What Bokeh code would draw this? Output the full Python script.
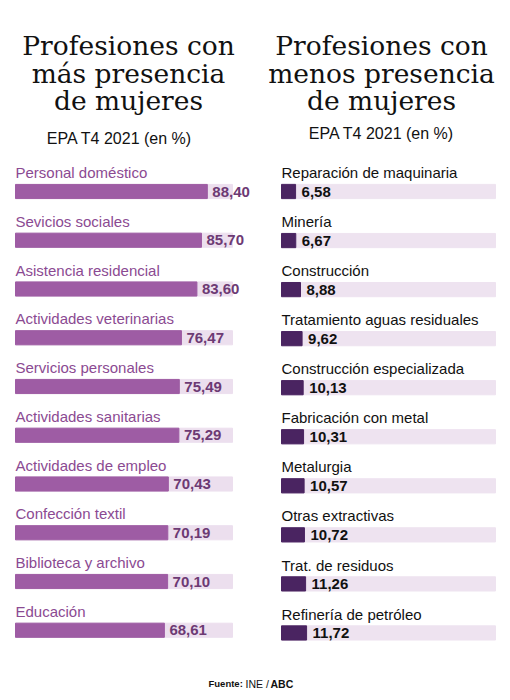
from bokeh.plotting import figure
from bokeh.models import Range1d
from bokeh.core.properties import value
from bokeh.embed import file_html
from bokeh.resources import INLINE

# data
left_labels = ["Personal doméstico", "Sevicios sociales", "Asistencia residencial",
               "Actividades veterinarias", "Servicios personales", "Actividades sanitarias",
               "Actividades de empleo", "Confección textil", "Biblioteca y archivo", "Educación"]
left_values = [88.40, 85.70, 83.60, 76.47, 75.49, 75.29, 70.43, 70.19, 70.10, 68.61]

right_labels = ["Reparación de maquinaria", "Minería", "Construcción",
                "Tratamiento aguas residuales", "Construcción especializada",
                "Fabricación con metal", "Metalurgia", "Otras extractivas",
                "Trat. de residuos", "Refinería de petróleo"]
right_values = [6.58, 6.67, 8.88, 9.62, 10.13, 10.31, 10.57, 10.72, 11.26, 11.72]

W, H = 500, 690

def fmt(v):
    return f"{v:.2f}".replace(".", ",")

p = figure(width=W, height=H, output_backend="svg", toolbar_location=None,
           x_range=Range1d(0, W), y_range=Range1d(H, 0), min_border=0)
p.axis.visible = False
p.grid.visible = False
p.outline_line_color = None
p.background_fill_color = "white"

# scales for each panel: 0..100 % mapped to the pixel spans of the tracks
l0, lpx = 15, 2.17
r0, rpx = 281, 2.14
p.extra_x_ranges = {
    "left": Range1d(-l0 / lpx, (W - l0) / lpx),
    "right": Range1d(-r0 / rpx, (W - r0) / rpx),
}
# rows: bar centre of row i sits at 191 + step*i px
top = 191
lstep, rstep = 48.75, 49.05
p.extra_y_ranges = {
    "lrows": Range1d((H - top) / lstep, -top / lstep),
    "rrows": Range1d((H - top) / rstep, -top / rstep),
}

rows = list(range(len(left_values)))
full = [100] * len(rows)
bar_h = 0.29
lab_y = [r - 0.385 for r in rows]

# left panel
p.hbar(y=rows, left=0, right=full, height=bar_h, color="#ecdfee",
       x_range_name="left", y_range_name="lrows")
p.hbar(y=rows, left=0, right=left_values, height=bar_h, color="#9e5ca4",
       x_range_name="left", y_range_name="lrows")
p.text(x=[0] * len(rows), y=lab_y, text=left_labels, text_color="#8b4a92",
       text_font=value("Liberation Sans"), text_font_size="15px",
       text_baseline="middle", x_range_name="left", y_range_name="lrows")
p.text(x=left_values, y=rows, text=[fmt(v) for v in left_values], x_offset=5,
       text_color="#6d3a74", text_font=value("Liberation Sans"), text_font_style="bold",
       text_font_size="15px", text_baseline="middle",
       x_range_name="left", y_range_name="lrows")

# right panel
p.hbar(y=rows, left=0, right=full, height=bar_h, color="#eee3f0",
       x_range_name="right", y_range_name="rrows")
p.hbar(y=rows, left=0, right=right_values, height=bar_h, color="#4a2461",
       x_range_name="right", y_range_name="rrows")
p.text(x=[0] * len(rows), y=lab_y, text=right_labels, text_color="#111111",
       text_font=value("Liberation Sans"), text_font_size="15px",
       text_baseline="middle", x_range_name="right", y_range_name="rrows")
p.text(x=right_values, y=rows, text=[fmt(v) for v in right_values], x_offset=6,
       text_color="#111111", text_font=value("Liberation Sans"), text_font_style="bold",
       text_font_size="15px", text_baseline="middle",
       x_range_name="right", y_range_name="rrows")

# titles
p.text(x=[128] * 3, y=[45, 73, 100], text=["Profesiones con", "más presencia", "de mujeres"],
       text_font=value("DejaVu Serif"), text_font_size="26.5px", text_color="#111111",
       text_align="center", text_baseline="alphabetic")
p.text(x=[381] * 3, y=[45, 73, 100], text=["Profesiones con", "menos presencia", "de mujeres"],
       text_font=value("DejaVu Serif"), text_font_size="26.5px", text_color="#111111",
       text_align="center", text_baseline="alphabetic")
p.text(x=[119, 381], y=[138, 133], text=["EPA T4 2021 (en %)", "EPA T4 2021 (en %)"],
       text_font=value("Liberation Sans"), text_font_size="16px", text_color="#111111",
       text_align="center", text_baseline="alphabetic")

# source
p.text(x=[208], y=[683], text=["Fuente:"], text_font=value("Liberation Sans"),
       text_font_size="9.5px", text_font_style="bold", text_color="#111111",
       text_baseline="alphabetic")
p.text(x=[245], y=[683], text=["INE /"], text_font=value("Liberation Sans"),
       text_font_size="10.5px", text_color="#111111", text_baseline="alphabetic")
p.text(x=[270], y=[683], text=["ABC"], text_font=value("Liberation Sans"),
       text_font_size="10.5px", text_font_style="bold", text_color="#111111",
       text_baseline="alphabetic")

open("out.html", "w").write(file_html(p, INLINE))
